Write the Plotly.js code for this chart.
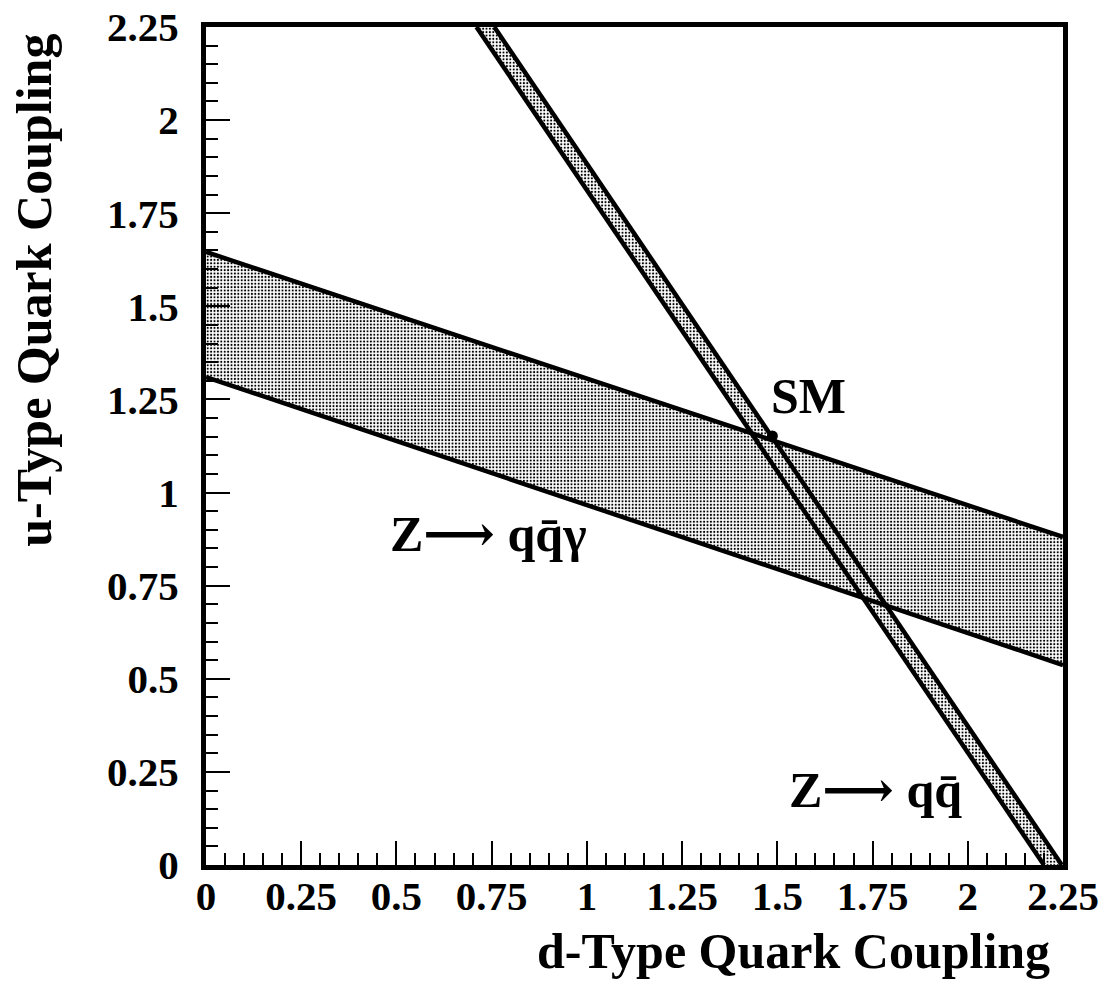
<!DOCTYPE html>
<html>
<head>
<meta charset="utf-8">
<script src="https://cdn.plot.ly/plotly-3.0.1.min.js"></script>
<style>html,body{margin:0;padding:0;background:#fff;}#chart{width:1105px;height:1000px;}</style>
</head>
<body>
<div id="chart"></div>
<script>
// ---- data ----
const tickValues = [0, 0.25, 0.5, 0.75, 1, 1.25, 1.5, 1.75, 2, 2.25];
const tickLabels = ['0', '0.25', '0.5', '0.75', '1', '1.25', '1.5', '1.75', '2', '2.25'];

// Z -> q qbar gamma band (d-coupling at both ends, u-coupling of upper / lower edges)
const gammaBandD = [0, 2.25];
const gammaBandUpperU = [1.646, 0.881];
const gammaBandLowerU = [1.310, 0.537];

// Z -> q qbar band (u-coupling at the ends, d-coupling of left / right edges)
const qqBandU = [2.25, 0];
const qqBandLeftD = [0.710, 2.200];
const qqBandRightD = [0.757, 2.247];

// Standard Model point
const smD = [1.487];
const smU = [1.152];

// labels
const labelText = ['SM', 'Z\u27f6 qq\u0304\u03b3', 'Z\u27f6 qq\u0304'];
const labelD = [1.583, 0.741, 1.757];
const labelU = [1.259, 0.889, 0.201];

const FONT = 'Liberation Serif, DejaVu Serif, serif';
const stipple = {shape: '.', fgcolor: '#000', bgcolor: '#fff', size: 3.4, solidity: 0.3};

const traces = [
  {
    x: [gammaBandD[0], gammaBandD[1], gammaBandD[1], gammaBandD[0]],
    y: [gammaBandUpperU[0], gammaBandUpperU[1], gammaBandLowerU[1], gammaBandLowerU[0]],
    mode: 'lines', fill: 'toself', line: {width: 0, color: 'rgba(0,0,0,0)'},
    fillcolor: '#c0c0c0', fillpattern: stipple, hoverinfo: 'skip'
  },
  {
    x: [qqBandLeftD[0], qqBandRightD[0], qqBandRightD[1], qqBandLeftD[1]],
    y: [qqBandU[0], qqBandU[0], qqBandU[1], qqBandU[1]],
    mode: 'lines', fill: 'toself', line: {width: 0, color: 'rgba(0,0,0,0)'},
    fillcolor: '#c0c0c0', fillpattern: stipple, hoverinfo: 'skip'
  },
  {x: gammaBandD, y: gammaBandUpperU, mode: 'lines', line: {color: '#000', width: 4.5}},
  {x: gammaBandD, y: gammaBandLowerU, mode: 'lines', line: {color: '#000', width: 4.5}},
  {x: qqBandLeftD, y: qqBandU, mode: 'lines', line: {color: '#000', width: 4.5}},
  {x: qqBandRightD, y: qqBandU, mode: 'lines', line: {color: '#000', width: 4.5}},
  {x: smD, y: smU, mode: 'markers', marker: {color: '#000', size: 11}}
];

const axisCommon = {
  range: [0, 2.25],
  tickmode: 'array', tickvals: tickValues, ticktext: tickLabels,
  ticks: 'inside', ticklen: 24, tickwidth: 2, tickcolor: '#000',
  showline: true, linewidth: 5, linecolor: '#000', mirror: true,
  showgrid: false, zeroline: false, fixedrange: true,
  tickfont: {family: FONT, size: 41, weight: 'bold', color: '#000'},
  minor: {dtick: 0.05, tick0: 0, ticks: 'inside', ticklen: 12, tickwidth: 2, tickcolor: '#000', showgrid: false}
};

const annotations = labelText.map((t, i) => ({
  x: labelD[i], y: labelU[i], xref: 'x', yref: 'y', text: t, showarrow: false,
  font: {family: FONT, size: 50, weight: 'bold', color: '#000'}
}));
annotations.push({
  x: 0.685, y: -0.103, xref: 'paper', yref: 'paper', text: 'd-Type Quark Coupling',
  showarrow: false, xanchor: 'center', yanchor: 'middle',
  font: {family: FONT, size: 50, weight: 'bold', color: '#000'}
});
annotations.push({
  x: -0.2, y: 0.686, xref: 'paper', yref: 'paper', text: 'u-Type Quark Coupling',
  showarrow: false, textangle: -90, xanchor: 'center', yanchor: 'middle',
  font: {family: FONT, size: 50, weight: 'bold', color: '#000'}
});

const layout = {
  width: 1105, height: 1000,
  margin: {l: 206, r: 42, t: 27, b: 135},
  paper_bgcolor: '#fff', plot_bgcolor: '#fff',
  showlegend: false,
  xaxis: Object.assign({}, axisCommon, {ticklabelstandoff: -9}),
  yaxis: Object.assign({}, axisCommon, {ticklabelstandoff: 14}),
  annotations: annotations
};

Plotly.newPlot('chart', traces, layout, {staticPlot: true, displayModeBar: false});
</script>
</body>
</html>
